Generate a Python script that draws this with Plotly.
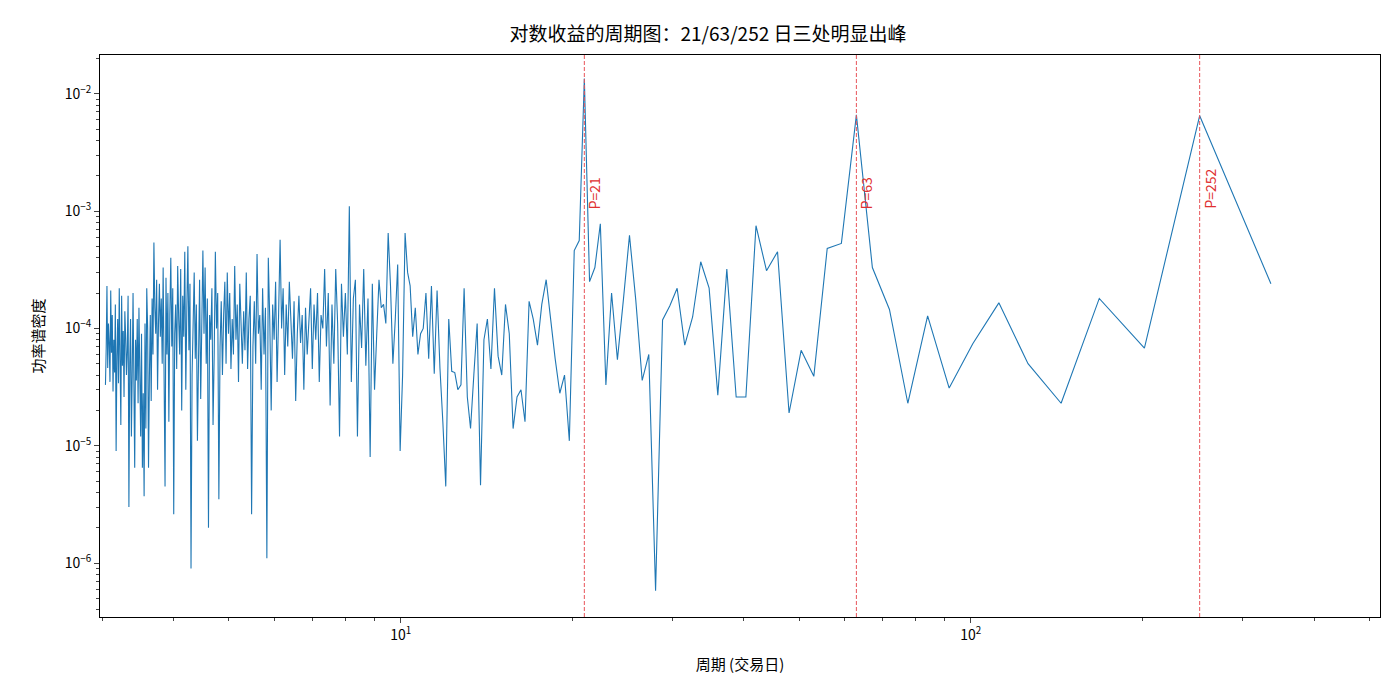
import numpy as np
import plotly.graph_objects as go

N_DAYS = 1008
# harmonic index k; period = N_DAYS / k
k_values = list(range(3, 337))

# power spectral density, one value per k (k = 3 .. 336)
psd = [
    2.4e-4, 6.5e-3, 6.8e-5, 1.8e-4, 2.3e-5, 5.0e-5, 1.65e-4, 7.4e-5, 3.1e-5, 1.28e-4,
    2.3e-5, 1.45e-4, 3.3e-4, 6.6e-3, 5.3e-4, 4.8e-4, 3.9e-5, 6.5e-5, 1.9e-5, 4.5e-4,
    3.1e-4, 7.5e-4, 2.6e-5, 2.6e-5, 3.2e-4, 2.7e-5, 2.2e-4, 3.7e-4, 1.25e-4, 7.2e-5,
    2.2e-4, 1.55e-4, 1.18e-4, 5.8e-7, 6.0e-5, 3.6e-5, 1.75e-4, 6.2e-4, 1.75e-4, 5.4e-5,
    2.0e-4, 3.3e-5, 7.8e-4, 3.3e-4, 2.5e-4, 1.35e-2, 5.6e-4, 4.6e-4, 1.1e-5, 4.0e-5,
    2.8e-5, 5.5e-5, 1.2e-4, 2.6e-4, 1.6e-4, 7.2e-5, 1.2e-4, 1.7e-4, 1.6e-5, 3.0e-5,
    2.6e-5, 1.4e-5, 9.0e-5, 1.6e-4, 4.0e-5, 5.8e-5, 2.2e-4, 4.5e-5, 1.2e-4, 8.0e-5,
    4.6e-6, 1.1e-4, 4.0e-5, 1.4e-5, 2.6e-5, 2.2e-4, 3.3e-5, 3.0e-5, 4.2e-5, 4.3e-5,
    1.2e-4, 4.5e-6, 1.6e-5, 4.6e-5, 2.1e-4, 4.1e-5, 2.3e-4, 5.5e-5, 2.0e-4, 1.0e-4,
    9.0e-5, 6.0e-5, 1.5e-4, 8.5e-5, 2.3e-4, 3.0e-4, 6.5e-4, 4.0e-5, 9.0e-6, 3.5e-4,
    1.2e-4, 5.0e-5, 2.3e-4, 6.5e-4, 1.1e-4, 1.6e-4, 1.5e-4, 2.6e-4, 9.0e-5, 3.0e-5,
    2.4e-4, 8.0e-6, 1.8e-4, 4.8e-5, 3.2e-4, 6.8e-5, 1.6e-4, 1.2e-5, 2.6e-4, 1.8e-4,
    3.5e-5, 1.1e-3, 6.0e-5, 2.0e-4, 8.5e-5, 2.4e-4, 1.2e-5, 1.1e-4, 3.2e-4, 5.0e-5,
    1.6e-4, 2.2e-5, 2.0e-4, 7.0e-5, 3.2e-4, 1.0e-4, 1.3e-4, 3.5e-5, 2.0e-4, 8.0e-5,
    1.6e-4, 4.5e-5, 2.2e-4, 1.1e-4, 6.0e-5, 1.5e-4, 3.0e-5, 1.3e-4, 7.5e-5, 1.9e-4,
    9.0e-5, 2.4e-5, 1.7e-4, 5.5e-5, 1.3e-4, 2.5e-4, 7.0e-5, 1.6e-4, 4.0e-5, 2.2e-4,
    1.0e-4, 5.7e-4, 1.3e-4, 3.5e-5, 2.5e-4, 8.0e-5, 1.6e-4, 2.0e-5, 1.2e-4, 4.0e-4,
    1.1e-6, 1.5e-4, 6.0e-5, 2.2e-4, 3.0e-5, 1.3e-4, 9.0e-5, 4.3e-4, 5.0e-5, 1.7e-4,
    7.0e-5, 2.6e-6, 1.9e-4, 1.2e-4, 4.5e-5, 3.0e-4, 6.5e-5, 1.4e-4, 5.0e-5, 1.0e-4,
    2.4e-4, 3.5e-5, 1.6e-4, 8.0e-5, 3.4e-4, 6.0e-5, 1.2e-4, 4.5e-5, 2.0e-4, 9.0e-5,
    3.0e-4, 5.0e-5, 2.5e-4, 1.3e-4, 4.0e-5, 1.7e-4, 7.0e-5, 3.5e-6, 2.0e-4, 1.0e-4,
    4.5e-4, 6.0e-5, 1.5e-5, 2.2e-4, 8.0e-5, 1.3e-4, 2.0e-6, 1.8e-4, 5.0e-5, 3.3e-4,
    9.0e-5, 4.6e-4, 1.4e-4, 2.5e-5, 2.6e-4, 7.0e-5, 1.1e-5, 1.6e-4, 5.5e-5, 3.0e-4,
    1.1e-4, 4.0e-5, 9.0e-7, 2.4e-4, 6.5e-5, 5.0e-4, 1.5e-4, 3.0e-5, 4.5e-4, 8.5e-5,
    1.9e-4, 2.0e-5, 3.2e-4, 6.0e-5, 1.2e-4, 3.4e-4, 4.5e-5, 1.6e-4, 9.0e-5, 2.6e-6,
    2.2e-4, 7.0e-5, 4.0e-4, 1.3e-4, 1.6e-5, 2.0e-4, 6.0e-5, 2.7e-4, 4.5e-6, 1.4e-4,
    3.3e-4, 5.0e-5, 1.8e-4, 8.5e-5, 2.4e-4, 1.1e-4, 3.0e-5, 2.6e-4, 9.0e-5, 1.5e-4,
    5.4e-4, 6.0e-5, 1.8e-4, 2.4e-5, 1.3e-4, 4.0e-5, 6.5e-6, 1.0e-4, 2.2e-4, 1.4e-5,
    1.1e-4, 3.7e-6, 2.8e-5, 6.5e-6, 9.0e-5, 1.2e-5, 5.5e-5, 1.5e-4, 2.3e-5, 1.2e-4,
    3.6e-5, 8.0e-5, 6.5e-6, 1.3e-4, 2.0e-4, 4.0e-5, 1.2e-5, 1.2e-4, 5.0e-5, 3.0e-6,
    1.9e-4, 6.5e-5, 4.0e-5, 8.5e-5, 1.4e-4, 2.6e-5, 9.5e-5, 4.8e-5, 1.9e-4, 1.5e-5,
    7.0e-5, 2.2e-4, 3.4e-5, 1.2e-4, 5.8e-5, 9.0e-6, 1.6e-4, 4.2e-5, 8.0e-5, 2.9e-5,
    1.3e-4, 6.2e-5, 2.1e-4, 3.5e-5, 7.5e-5, 1.1e-4, 4.6e-5, 2.3e-4, 6.8e-5, 3.3e-5,
]
peak_periods = [21, 63, 252]

psd = psd[:len(k_values)]
periods = [N_DAYS / k for k in k_values]

fig = go.Figure()
fig.add_trace(go.Scatter(x=periods, y=psd, mode="lines",
                         line=dict(color="#1f77b4", width=1.1), showlegend=False))

for p in peak_periods:
    fig.add_vline(x=p, line=dict(color="#e8555a", width=1, dash="4px,2px"))
    fig.add_annotation(x=np.log10(p), y=-3, text=f"P={p}", textangle=-90,
                       showarrow=False, xanchor="left", yanchor="bottom", xshift=-2,
                       font=dict(color="#e03030", size=14))

axis_common = dict(showline=True, linecolor="black", mirror=True, ticks="outside",
                   ticklen=5, showgrid=False, zeroline=False, automargin=False,
                   tickfont=dict(size=14, color="black"))

fig.update_xaxes(type="log", range=[np.log10(2.97), np.log10(522)],
                 tickvals=[10, 100], ticktext=["10<sup>1</sup>", "10<sup>2</sup>"],
                 minor=dict(ticks="outside", ticklen=3, tickvals=[3, 4, 5, 6, 7, 8, 9, 20, 30, 40, 50, 60, 70, 80, 90, 200, 300, 400, 500]),
                 title=dict(text="周期 (交易日)", font=dict(size=15), standoff=16), **axis_common)
ymin = [m * 10.0 ** e for e in range(-7, -1) for m in range(2, 10)]
fig.update_yaxes(type="log", range=[-6.46, -1.67],
                 tickvals=[1e-6, 1e-5, 1e-4, 1e-3, 1e-2],
                 ticktext=["10<sup>−6</sup>", "10<sup>−5</sup>", "10<sup>−4</sup>", "10<sup>−3</sup>", "10<sup>−2</sup>"],
                 minor=dict(ticks="outside", ticklen=3, tickvals=ymin),
                 title=dict(text="功率谱密度", font=dict(size=15), standoff=16), **axis_common)

fig.update_layout(
    width=1400, height=700,
    margin=dict(l=92, r=28, t=47, b=91),
    plot_bgcolor="white", paper_bgcolor="white",
    font=dict(family="Noto Sans CJK SC", color="black"),
    title=dict(text="对数收益的周期图：21/63/252 日三处明显出峰", x=0.5, xanchor="center",
               yref="container", y=0.962, yanchor="middle", font=dict(size=19)),
)

fig.write_html("out.html")
